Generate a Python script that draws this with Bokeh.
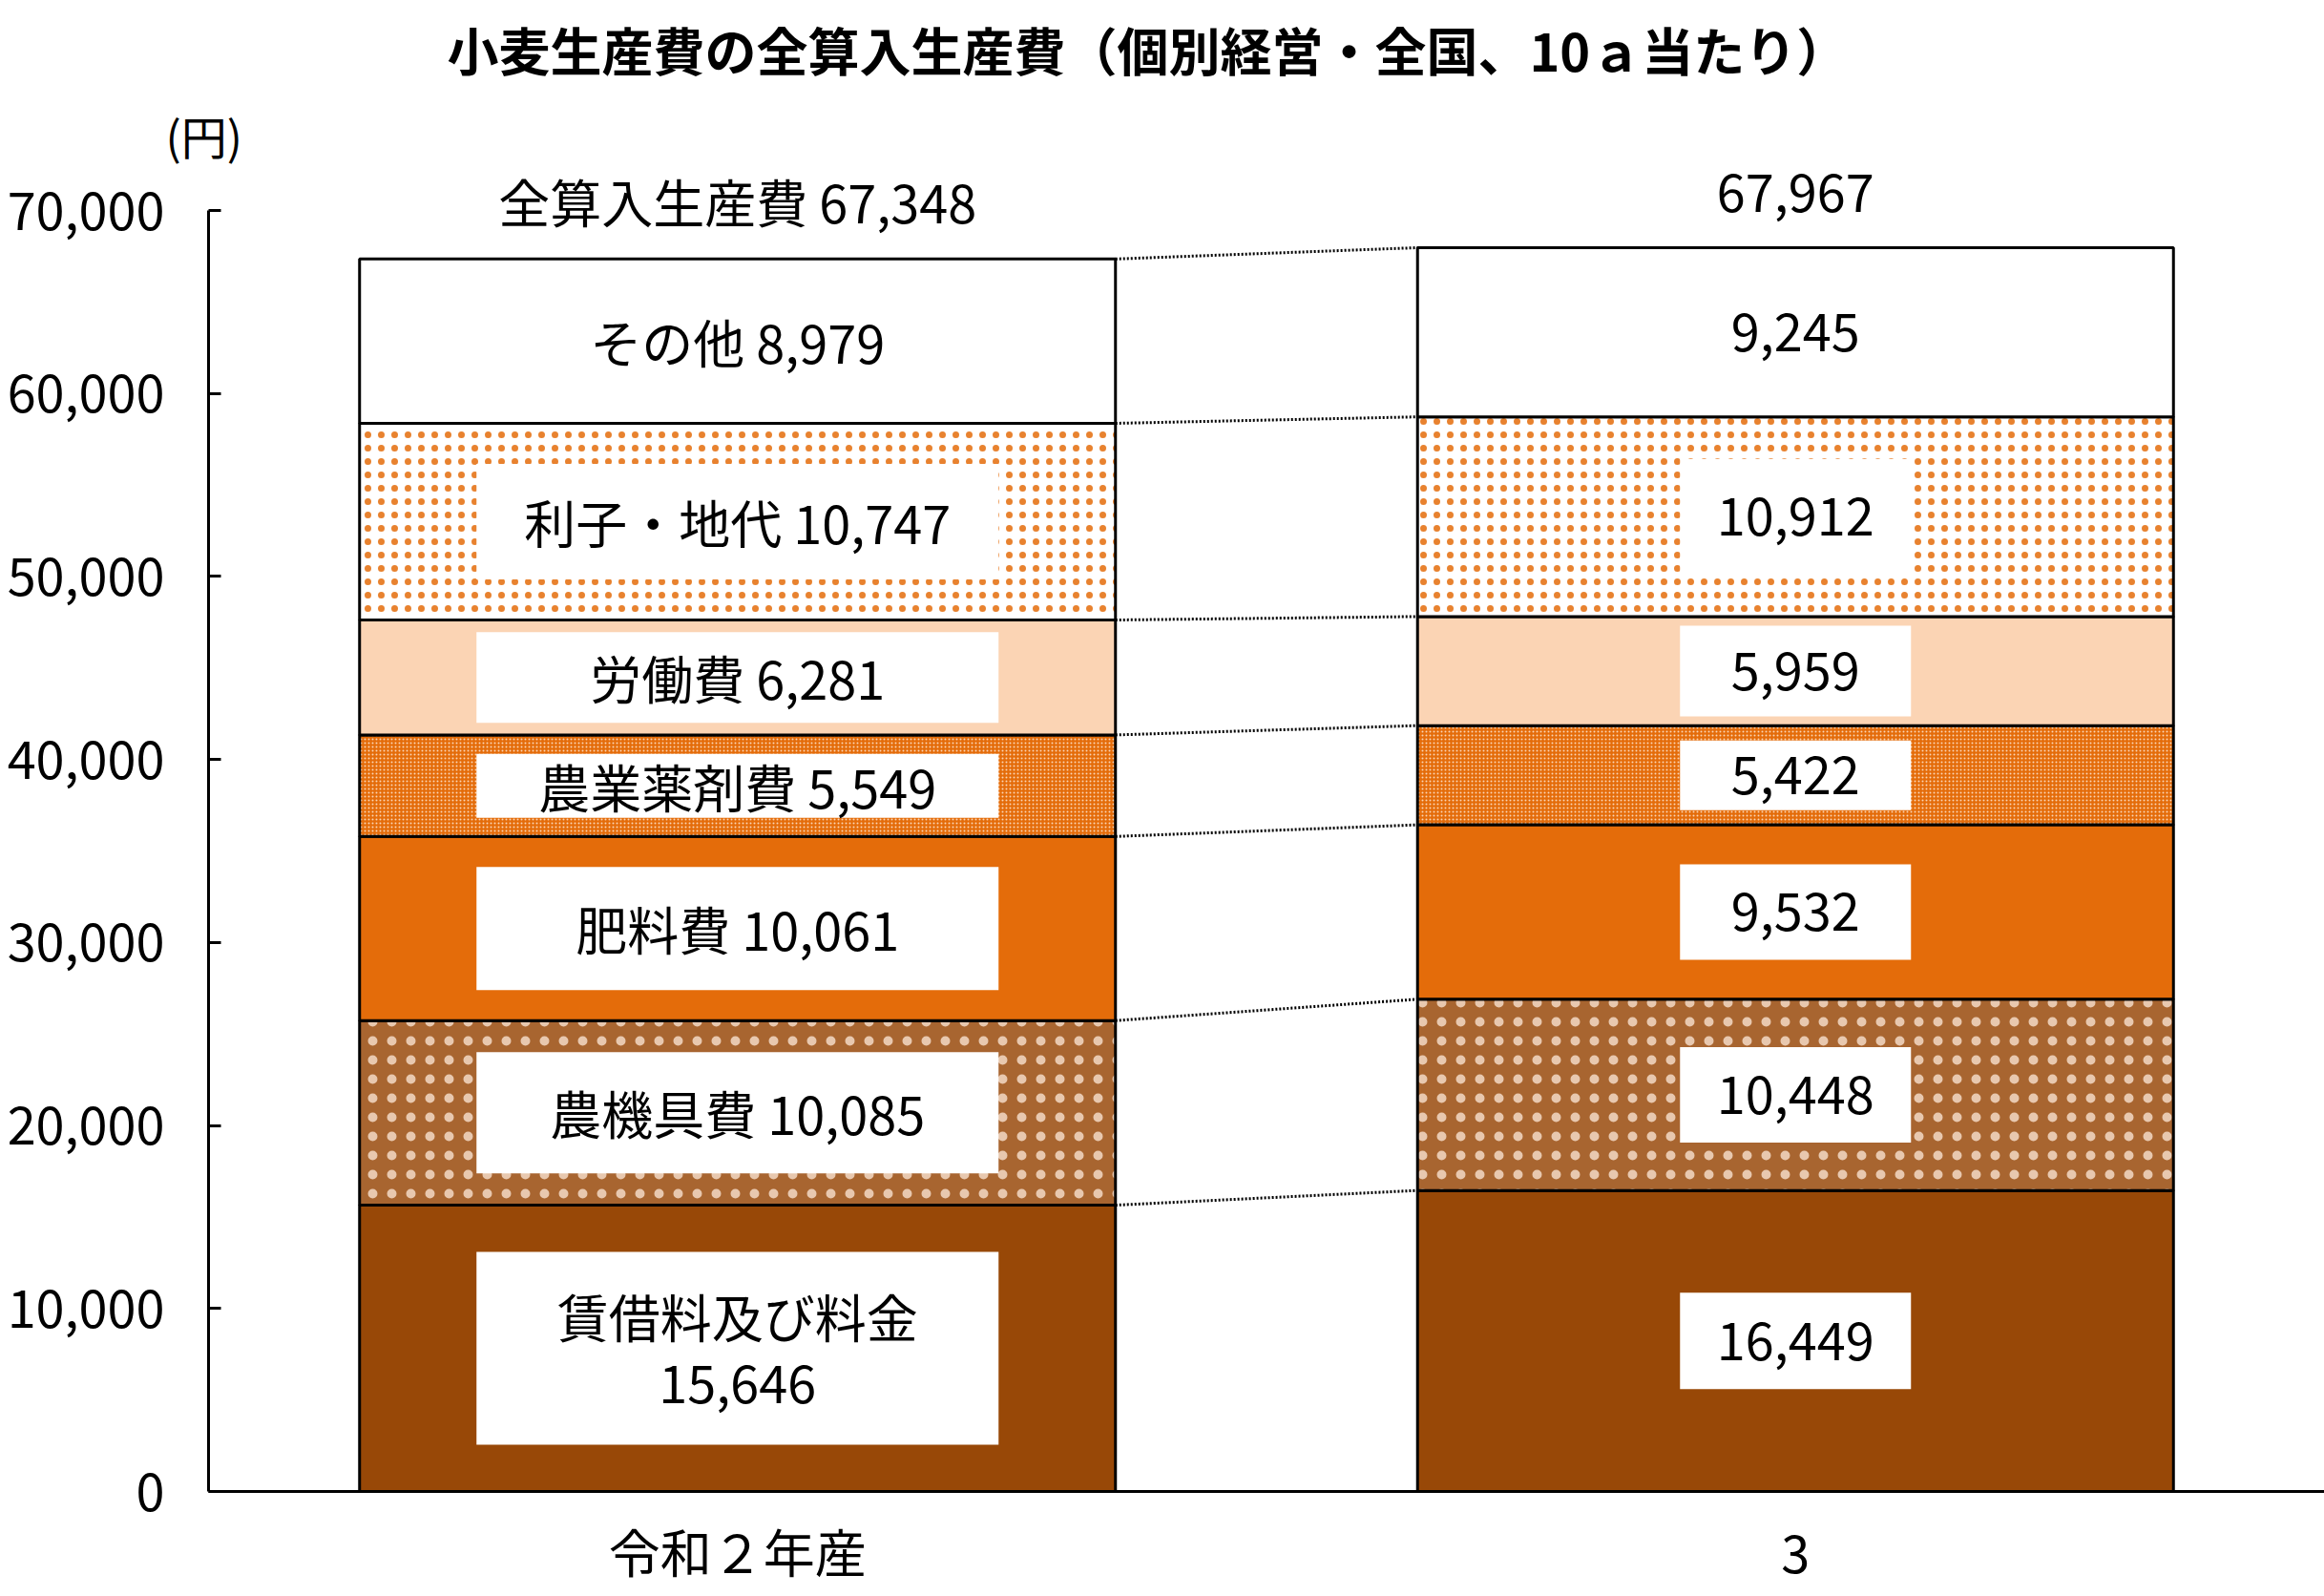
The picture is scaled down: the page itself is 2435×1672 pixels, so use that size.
from bokeh.plotting import figure
from bokeh.models import Range1d, FixedTicker, NumeralTickFormatter, Title
from bokeh.embed import file_html
from bokeh.resources import INLINE
from bokeh.core.properties import value

# ---------------- data ----------------
years = ["令和２年産", "3"]
items = ["賃借料及び料金", "農機具費", "肥料費", "農業薬剤費", "労働費", "利子・地代", "その他"]
vals_r2 = [15646, 10085, 10061, 5549, 6281, 10747, 8979]
vals_r3 = [16449, 10448, 9532, 5422, 5959, 10912, 9245]
totals = [67348, 67967]
total_name = "全算入生産費"
y_ticks = [0, 10000, 20000, 30000, 40000, 50000, 60000, 70000]
title_text = "小麦生産費の全算入生産費（個別経営・全国、10ａ当たり）"
unit_text = "(円)"

# ---------------- styles ----------------
FONT = "Noto Sans CJK JP"
W, H = 2435, 1672
LEFT, BOTTOM, TOP = 218, 110, 179
Y70_PX = 220          # pixel row of the 70,000 tick
BAR_W = 0.7145
fills = ["#984807", "#A86530", "#E46C0A", "#E46C0A", "#FBD4B4", "#FFFFFF", "#FFFFFF"]
hatches = [None, "dot", None, "dot", None, "dot", None]
hatch_colors = [None, "#FDEADA", None, "#FBD4B4", None, "#E46C0A", None]
hatch_scales = [None, 20, None, 4, None, 14, None]
hatch_weights = [None, 0.3, None, 3, None, 0.3, None]
hatch_alphas = [None, 0.75, None, 1.0, None, 0.85, None]
box_w = [547, 242]
box_h = [[202, 127, 129, 67, 95, 121, 0], [101, 100, 100, 73, 95, 121, 0]]

frame_h = H - BOTTOM - TOP
y_end = 70000 * frame_h / ((H - BOTTOM) - Y70_PX)

p = figure(width=W, height=H, output_backend="svg", toolbar_location=None,
           x_range=Range1d(0, len(years)), y_range=Range1d(0, y_end),
           min_border_left=LEFT, min_border_right=0, min_border_top=TOP,
           min_border_bottom=BOTTOM)
p.title.visible = False
p.outline_line_color = None
p.xgrid.visible = False
p.ygrid.visible = False
p.background_fill_color = "white"
p.border_fill_color = "white"

xs = [i + 0.5 for i in range(len(years))]
series = [vals_r2, vals_r3]

# bars
for k in range(len(items)):
    bottoms = [sum(s[:k]) for s in series]
    tops = [sum(s[:k + 1]) for s in series]
    kw = dict(fill_color=fills[k], line_color="black", line_width=3)
    if hatches[k]:
        kw.update(hatch_pattern=hatches[k], hatch_color=hatch_colors[k],
                  hatch_scale=hatch_scales[k], hatch_weight=hatch_weights[k],
                  hatch_alpha=hatch_alphas[k])
    p.vbar(x=xs, width=BAR_W, bottom=bottoms, top=tops, **kw)

# connectors
cum_l = [sum(vals_r2[:k + 1]) for k in range(len(items))]
cum_r = [sum(vals_r3[:k + 1]) for k in range(len(items))]
p.segment(x0=[xs[0] + BAR_W / 2] * len(items), y0=cum_l,
          x1=[xs[1] - BAR_W / 2] * len(items), y1=cum_r,
          line_color="black", line_width=3, line_dash="2 2")

# label boxes and texts
for j, s in enumerate(series):
    mids = [sum(s[:k]) + s[k] / 2 for k in range(len(items))]
    hs = box_h[j]
    bx = [xs[j]] * len(items)
    sel = [k for k in range(len(items)) if hs[k] > 0]
    p.rect(x=[bx[k] for k in sel], y=[mids[k] for k in sel],
           width=box_w[j], height=[hs[k] for k in sel],
           width_units="screen", height_units="screen",
           fill_color="white", line_color=None)
    if j == 0:
        texts = []
        for k in range(len(items)):
            if k == 0:
                texts.append(f"{items[k]}\n{s[k]:,}")
            else:
                texts.append(f"{items[k]} {s[k]:,}")
    else:
        texts = [f"{v:,}" for v in s]
    p.text(x=bx, y=mids, text=texts, text_font=value(FONT), text_font_size="54px",
           text_align="center", text_baseline="middle", text_line_height=0.87,
           text_color="black")

# totals
tot_texts = [f"{total_name} {totals[0]:,}", f"{totals[1]:,}"]
p.text(x=xs, y=totals, text=tot_texts, y_offset=[-61, -57], text_font=value(FONT),
       text_font_size="54px", text_align="center", text_baseline="middle",
       text_color="black")

# axes
ya = p.yaxis[0]
ya.ticker = FixedTicker(ticks=y_ticks)
ya.formatter = NumeralTickFormatter(format="0,0")
ya.bounds = (0, 70000)
ya.axis_line_width = 3
ya.axis_line_color = "black"
ya.major_tick_in = 13
ya.major_tick_out = 0
ya.major_tick_line_width = 3
ya.minor_tick_line_color = None
ya.major_label_standoff = 46
ya.major_label_text_font = FONT
ya.major_label_text_font_size = "54px"
ya.major_label_text_color = "black"

xa = p.xaxis[0]
xa.ticker = FixedTicker(ticks=xs)
xa.major_label_overrides = {x: y for x, y in zip(xs, years)}
xa.axis_line_width = 3
xa.axis_line_color = "black"
xa.major_tick_in = 0
xa.major_tick_out = 0
xa.minor_tick_line_color = None
xa.major_label_standoff = 22
xa.major_label_text_font = FONT
xa.major_label_text_font_size = "54px"
xa.major_label_text_color = "black"

# unit label (nearest the frame) and chart title above it
p.add_layout(Title(text=unit_text, align="left", offset=-45, standoff=7,
                   text_font=FONT, text_font_size="48px", text_font_style="normal",
                   text_color="black"), "above")
p.add_layout(Title(text=title_text, align="left", offset=250, standoff=19,
                   text_font=FONT, text_font_size="54px", text_font_style="bold",
                   text_color="black"), "above")

open("out.html", "w").write(file_html(p, INLINE))
